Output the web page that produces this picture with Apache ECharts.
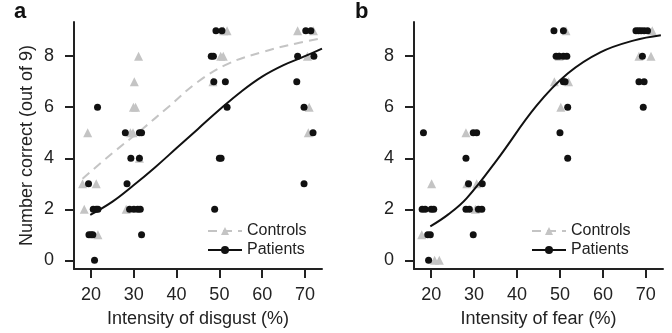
<!DOCTYPE html>
<html>
<head>
<meta charset="utf-8">
<script src="https://cdn.jsdelivr.net/npm/echarts@6/dist/echarts.min.js"></script>
<style>
html,body{margin:0;padding:0;background:#fff;}
#c{width:672px;height:333px;}
</style>
</head>
<body>
<div id="c"></div>
<script>
// ---- data ----
const xTicks = [20, 30, 40, 50, 60, 70];
const yTicks = [0, 2, 4, 6, 8];
const legendNames = ['Controls', 'Patients'];
const panelLabels = ['a', 'b'];
const xTitles = ['Intensity of disgust (%)', 'Intensity of fear (%)'];
const yTitle = 'Number correct (out of 9)';

const disgustPatients = [
  [49.2,9],[50.6,9],[70.2,9],[71.4,9],
  [48.1,8],[48.6,8],[68.3,8],[72.1,8],
  [48.7,7],[51.4,7],[68.1,7],
  [21.5,6],[51.8,6],[69.8,6],
  [28.0,5],[31.3,5],[31.8,5],[71.9,5],
  [29.3,4],[31.3,4],[50.0,4],[50.4,4],
  [19.4,3],[28.4,3],[69.8,3],
  [20.5,2],[21.2,2],[21.6,2],[29.0,2],[30.0,2],[30.9,2],[31.5,2],[48.9,2],
  [19.5,1],[20.0,1],[20.4,1],[31.8,1],
  [20.8,0]
];
const disgustControls = [
  [51.0,9],[51.8,9],[68.3,9],[72.0,9],
  [31.1,8],[50.3,8],[50.9,8],[70.6,8],
  [30.1,7],[48.5,7],
  [29.9,6],[30.4,6],[71.0,6],
  [19.2,5],[29.2,5],[29.8,5],[70.8,5],
  [31.3,4],
  [18.0,3],[21.2,3],
  [18.4,2],[28.2,2],
  [21.6,1]
];
const disgustPatientsCurve = [
  [19.8,1.78],[25,2.3],[30,2.95],[35,3.65],[40,4.4],[45,5.15],[50,5.9],[55,6.6],[60,7.2],[65,7.65],[70,8.0],[74,8.3]
];
const disgustControlsCurve = [
  [18,3.2],[25,4.2],[32,5.15],[38,6.0],[45,7.0],[52,7.7],[60,8.16],[68,8.5],[74,8.7]
];

const fearPatients = [
  [48.6,9],[50.8,9],[67.7,9],[68.3,9],[68.9,9],[69.6,9],[70.4,9],
  [49.1,8],[49.8,8],[50.8,8],[51.6,8],[69.2,8],
  [50.8,7],[51.2,7],[68.4,7],[69.6,7],
  [51.8,6],[69.4,6],
  [18.2,5],[29.8,5],[30.6,5],[50.0,5],
  [28.1,4],[51.8,4],
  [28.7,3],[31.9,3],
  [17.9,2],[18.6,2],[20.0,2],[20.6,2],[28.1,2],[28.9,2],[31.0,2],[31.8,2],
  [19.2,1],[19.8,1],[29.8,1],
  [19.4,0]
];
const fearControls = [
  [51.4,9],[71.5,9],
  [49.8,8],[68.4,8],[71.2,8],
  [48.7,7],[52.0,7],
  [50.2,6],
  [28.1,5],
  [20.1,3],[28.3,3],[30.6,3],
  [30.3,2],
  [17.8,1],
  [20.8,0],[21.9,0]
];
const fearPatientsCurve = [
  [19.8,1.33],[24,1.8],[28.3,2.44],[35.3,3.93],[44.5,6.05],[51.8,7.32],[59.5,8.16],[67.3,8.62],[73.5,8.82]
];

// ---- styles ----
const FONT = '"Liberation Sans", Arial, Helvetica, sans-serif';
const TXT = '#222';
const GREY = '#c4c4c4';
const BLACK = '#111';

function xAxis(i) {
  return {
    type: 'value', gridIndex: i, min: 16, max: 74,
    axisLine: { onZero: false, lineStyle: { color: TXT, width: 2 } },
    axisTick: { customValues: xTicks, length: 9, lineStyle: { color: TXT, width: 2 } },
    axisLabel: { customValues: xTicks, margin: 17, fontSize: 18, color: TXT, fontFamily: FONT },
    splitLine: { show: false },
    name: xTitles[i], nameLocation: 'middle', nameGap: 41,
    nameTextStyle: { fontSize: 18, color: TXT, fontFamily: FONT }
  };
}
function yAxis(i) {
  const a = {
    type: 'value', gridIndex: i, min: -0.34, max: 9.34,
    axisLine: { show: true, onZero: false, lineStyle: { color: TXT, width: 2 } },
    axisTick: { show: true, customValues: yTicks, length: 9, lineStyle: { color: TXT, width: 2 } },
    axisLabel: { customValues: yTicks, margin: 20, fontSize: 18, color: TXT, fontFamily: FONT },
    splitLine: { show: false }
  };
  if (i === 0) {
    a.name = yTitle; a.nameLocation = 'middle'; a.nameGap = 38;
    a.nameTextStyle = { fontSize: 18, color: TXT, fontFamily: FONT };
  }
  return a;
}
function legend(left) {
  return {
    data: legendNames, orient: 'vertical', left: left, top: 223, padding: 0,
    itemWidth: 34, itemHeight: 10, itemGap: 3, selectedMode: false,
    textStyle: { fontSize: 16, color: TXT, fontFamily: FONT }
  };
}

const option = {
  animation: false,
  backgroundColor: '#fff',
  grid: [
    { left: 74, top: 22, width: 248, height: 247 },
    { left: 414, top: 22, width: 249, height: 247 }
  ],
  xAxis: [xAxis(0), xAxis(1)],
  yAxis: [yAxis(0), yAxis(1)],
  legend: [legend(207), legend(531)],
  graphic: [
    { type: 'text', left: 14, top: 1, style: { text: panelLabels[0], font: 'bold 22px ' + FONT, fill: '#111' } },
    { type: 'text', left: 355, top: 1, style: { text: panelLabels[1], font: 'bold 22px ' + FONT, fill: '#111' } }
  ],
  series: [
    { name: 'Controls', type: 'line', xAxisIndex: 0, yAxisIndex: 0, data: disgustControlsCurve,
      smooth: 0.4, showSymbol: false, symbol: 'triangle', z: 2,
      itemStyle: { color: GREY }, lineStyle: { color: GREY, width: 2, type: [9, 6] } },
    { name: 'Patients', type: 'line', xAxisIndex: 0, yAxisIndex: 0, data: disgustPatientsCurve,
      smooth: 0.4, showSymbol: false, symbol: 'circle', z: 3,
      itemStyle: { color: BLACK }, lineStyle: { color: BLACK, width: 2 } },
    { name: 'Controls a', type: 'scatter', xAxisIndex: 0, yAxisIndex: 0, data: disgustControls,
      symbol: 'triangle', symbolSize: 9, z: 1, itemStyle: { color: GREY, opacity: 1 } },
    { name: 'Patients a', type: 'scatter', xAxisIndex: 0, yAxisIndex: 0, data: disgustPatients,
      symbol: 'circle', symbolSize: 7, z: 4, itemStyle: { color: BLACK, opacity: 1 } },
    { name: 'Patients', type: 'line', xAxisIndex: 1, yAxisIndex: 1, data: fearPatientsCurve,
      smooth: 0.4, showSymbol: false, symbol: 'circle', z: 3,
      itemStyle: { color: BLACK }, lineStyle: { color: BLACK, width: 2 } },
    { name: 'Controls b', type: 'scatter', xAxisIndex: 1, yAxisIndex: 1, data: fearControls,
      symbol: 'triangle', symbolSize: 9, z: 1, itemStyle: { color: GREY, opacity: 1 } },
    { name: 'Patients b', type: 'scatter', xAxisIndex: 1, yAxisIndex: 1, data: fearPatients,
      symbol: 'circle', symbolSize: 7, z: 4, itemStyle: { color: BLACK, opacity: 1 } }
  ]
};
const chart = echarts.init(document.getElementById('c'), null, { renderer: 'canvas' });
chart.setOption(option);
</script>
</body>
</html>
